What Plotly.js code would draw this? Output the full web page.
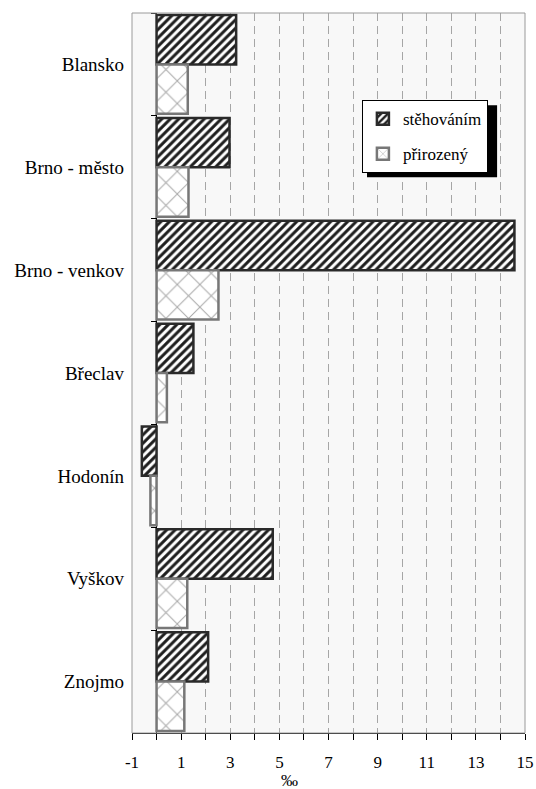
<!DOCTYPE html>
<html>
<head>
<meta charset="utf-8">
<script src="https://cdn.plot.ly/plotly-3.0.1.min.js"></script>
<style>html,body{margin:0;padding:0;background:#fff;}#chart{width:536px;height:789px;}</style>
</head>
<body>
<div id="chart"></div>
<script>
const categories = ['Blansko', 'Brno - město', 'Brno - venkov', 'Břeclav', 'Hodonín', 'Vyškov', 'Znojmo'];
const stehovanim = [3.24, 2.97, 14.57, 1.5, -0.6, 4.73, 2.1];
const prirozeny = [1.27, 1.3, 2.52, 0.42, -0.25, 1.25, 1.13];
const seriesNames = ['stěhováním', 'přirozený'];
const xTickVals = [-1, 1, 3, 5, 7, 9, 11, 13, 15];
const xTickText = ['-1', '1', '3', '5', '7', '9', '11', '13', '15'];

const FONT = '"Liberation Serif", "Times New Roman", serif';

const traces = [
  {
    type: 'bar', orientation: 'h', name: seriesNames[0],
    y: categories, x: stehovanim, legendgroup: 'a',
    marker: {
      color: '#ffffff',
      line: {color: '#2a2a2a', width: 2.5},
      pattern: {shape: '/', fgcolor: '#1e1e1e', bgcolor: '#ffffff', size: 6, solidity: 0.5, fillmode: 'replace'}
    },
    hoverinfo: 'skip'
  },
  {
    type: 'bar', orientation: 'h', name: seriesNames[1],
    y: categories, x: prirozeny, legendgroup: 'b',
    marker: {
      color: '#ffffff',
      line: {color: '#777777', width: 2.5},
      pattern: {shape: 'x', fgcolor: '#a8a8a8', bgcolor: '#ffffff', size: 16, solidity: 0.12, fillmode: 'replace'}
    },
    hoverinfo: 'skip'
  },
  {
    type: 'scatter', mode: 'markers', y: categories, x: stehovanim,
    yaxis: 'y2', marker: {opacity: 0}, showlegend: false, hoverinfo: 'skip'
  }
];

const layout = {
  width: 536, height: 789,
  margin: {l: 132, r: 11, t: 13, b: 56},
  paper_bgcolor: '#ffffff',
  plot_bgcolor: '#f8f8f8',
  barmode: 'group',
  bargap: 0.04,
  bargroupgap: 0,
  font: {family: FONT, color: '#000', size: 17},
  xaxis: {
    range: [-1, 15],
    tickmode: 'array', tickvals: xTickVals, ticktext: xTickText,
    ticks: 'outside', ticklen: 6, tickcolor: '#000', tickwidth: 1,
    showline: true, linecolor: '#000', linewidth: 1,
    showgrid: true, gridcolor: '#a6a6a6', griddash: '8px,5px', gridwidth: 1,
    zeroline: true, zerolinecolor: '#000', zerolinewidth: 1.5,
    tickfont: {family: FONT, size: 17, color: '#000'},
    ticklabelstandoff: 8,
    minor: {dtick: 1, tick0: 0, ticks: 'outside', ticklen: 6, tickcolor: '#000',
            showgrid: true, gridcolor: '#a6a6a6', griddash: '8px,5px', gridwidth: 1},
    fixedrange: true
  },
  yaxis: {
    type: 'category', autorange: 'reversed',
    categoryorder: 'array', categoryarray: categories,
    showgrid: false, showline: false, zeroline: false, ticks: '',
    tickfont: {family: FONT, size: 19, color: '#000'},
    ticklabelstandoff: 7,
    fixedrange: true
  },
  yaxis2: {
    type: 'category', matches: 'y', overlaying: 'y', anchor: 'free', position: 0.0625, side: 'left',
    categoryorder: 'array', categoryarray: categories,
    showgrid: false, showline: false, zeroline: false,
    showticklabels: false, ticks: 'outside', tickson: 'boundaries', ticklen: 6, tickcolor: '#000', tickwidth: 1,
    fixedrange: true
  },
  showlegend: true,
  legend: {
    x: 0.585, y: 0.879, xanchor: 'left', yanchor: 'top',
    bgcolor: '#ffffff', bordercolor: '#000', borderwidth: 1,
    font: {family: FONT, size: 17, color: '#000'},
    traceorder: 'grouped', tracegroupgap: 10
  },
  shapes: [
    {type: 'rect', xref: 'paper', yref: 'paper', x0: 0, x1: 1, y0: 0, y1: 1,
     line: {color: '#9a9a9a', width: 1}, fillcolor: 'rgba(0,0,0,0)', layer: 'above'},
    {type: 'rect', xref: 'paper', yref: 'paper', x0: 0.598, x1: 0.929, y0: 0.772, y1: 0.872,
     line: {width: 0}, fillcolor: '#000', layer: 'above'}
  ],
  annotations: [
    {text: '‰', xref: 'paper', yref: 'paper', x: 0.40, y: -0.066, showarrow: false,
     xanchor: 'center', yanchor: 'middle', font: {family: FONT, size: 17, color: '#000'}}
  ]
};

Plotly.newPlot('chart', traces, layout, {displayModeBar: false, staticPlot: true});
</script>
</body>
</html>
